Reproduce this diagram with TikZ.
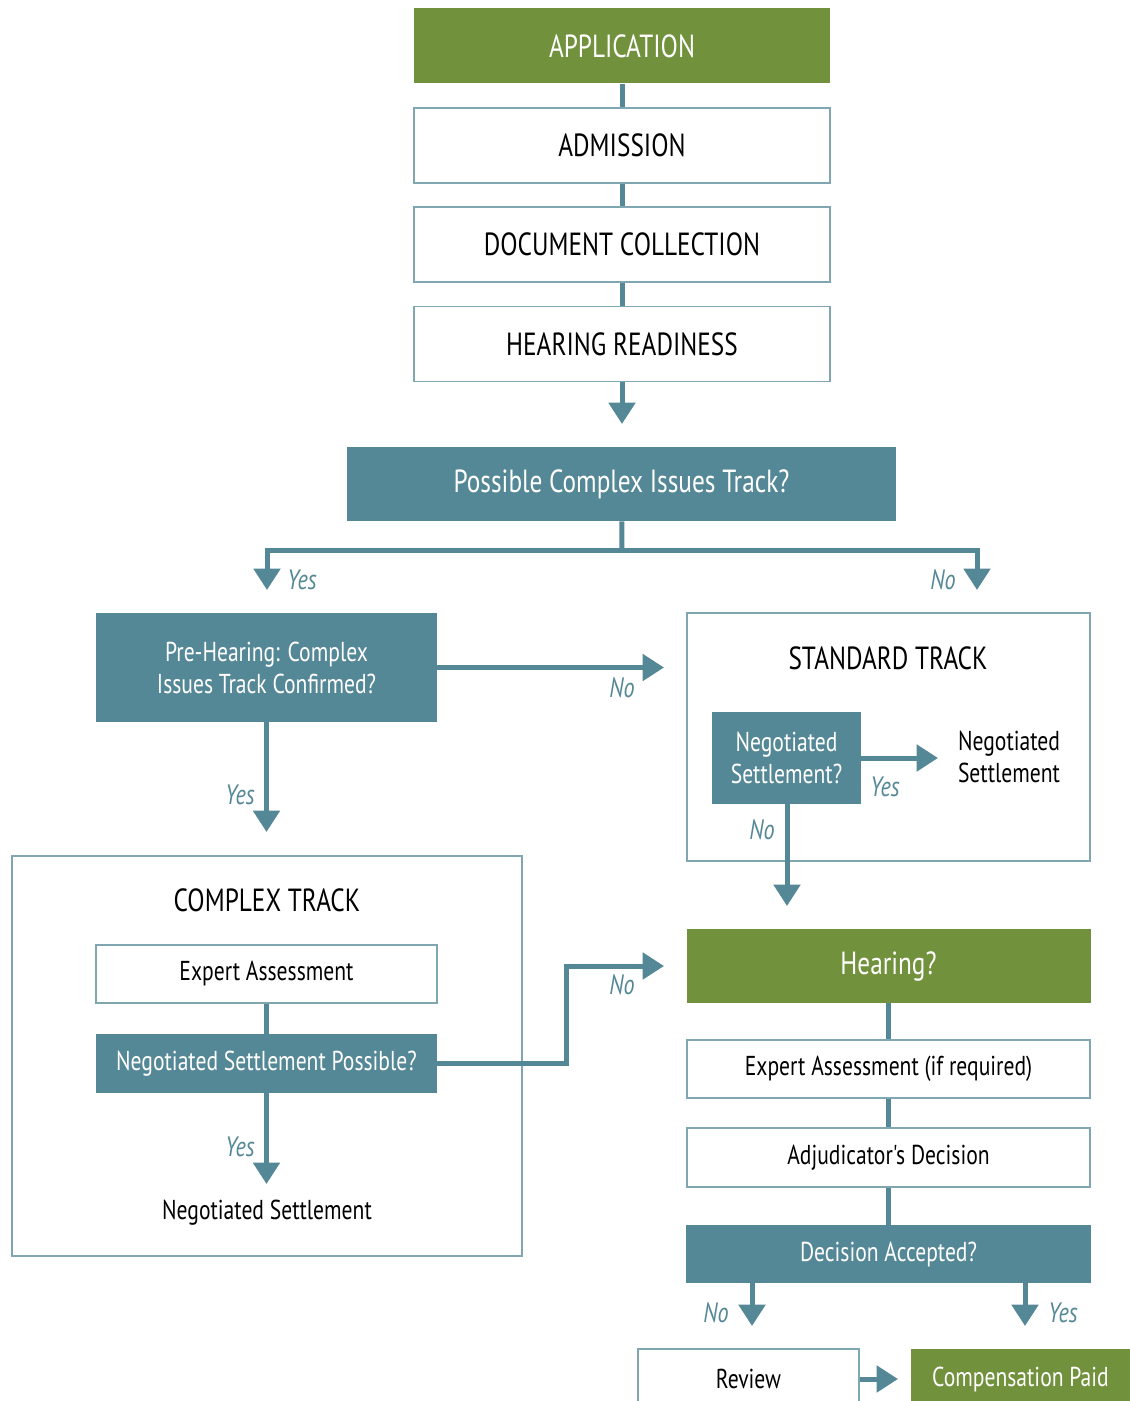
\documentclass[tikz,border=0pt]{standalone}
\usepackage{fontspec}
\setmainfont{PT Sans}[FakeStretch=0.79]
\newfontfamily\plainfont{PT Sans}[FakeStretch=0.79]
\usetikzlibrary{arrows.meta,positioning}
\definecolor{tealgrey}{HTML}{558896}
\definecolor{tealline}{HTML}{7FA6B1}
\definecolor{moss}{HTML}{71913C}
\tikzset{
  bigtext/.style={font=\fontsize{24}{28}\selectfont},
  smalltext/.style={font=\fontsize{20.5}{24}\selectfont, align=center},
  greenbox/.style={fill=moss, text=white, inner sep=0pt},
  tealbox/.style={fill=tealgrey, text=white, inner sep=0pt},
  whitebox/.style={draw=tealline, line width=1pt, fill=white, text=black, inner sep=0pt},
  trackframe/.style={draw=tealline, line width=1pt, inner sep=0pt},
  ans/.style={text=tealgrey, font=\fontsize{21}{24}\selectfont\itshape},
  link/.style={draw=tealgrey, line width=3.75pt},
  flow/.style={link, -{Triangle[width=19.5pt,length=16pt]}},
}
\begin{document}
\begin{tikzpicture}[x=0.75pt,y=-0.75pt]
        \clip (0,0) rectangle (1130,1401);
        \fill[white] (0,0) rectangle (1130,1401);

        % frames
        \node[trackframe, minimum width=302.25pt, minimum height=186pt] (std) at (888.5,737) {};
        \node[trackframe, minimum width=382.5pt, minimum height=300pt] (cplx) at (267,1056) {};

        % main stack
        \node[greenbox, bigtext, minimum width=312pt, minimum height=56.25pt] (app) at (622,46) {APPLICATION};
        \node[whitebox, bigtext, minimum width=312pt, minimum height=56.25pt] (adm) at (622,145.5) {ADMISSION};
        \node[whitebox, bigtext, minimum width=312pt, minimum height=56.25pt] (doc) at (622,244.5) {DOCUMENT COLLECTION};
        \node[whitebox, bigtext, minimum width=312pt, minimum height=56.25pt] (hr) at (622,344) {HEARING READINESS};
        \node[tealbox, bigtext, minimum width=411.75pt, minimum height=55.5pt] (pct) at (621.5,484) {Possible Complex Issues Track?};

        \node[tealbox, smalltext, minimum width=255.75pt, minimum height=81.75pt] (ph) at (266.5,667.5) {Pre-Hearing: Complex\\Issues Track Confirmed?};

        % standard track
        \node[bigtext] (stdT) at (888,658) {STANDARD TRACK};
        \node[tealbox, smalltext, minimum width=111.75pt, minimum height=69pt] (ns) at (786.5,758) {Negotiated\\Settlement?};
        \node[smalltext] (nsOut) at (1009,757) {Negotiated\\Settlement};

        % complex track
        \node[bigtext] (cplxT) at (267,900) {COMPLEX TRACK};
        \node[whitebox, smalltext, minimum width=255.75pt, minimum height=43.5pt] (ea) at (266.5,974) {Expert Assessment};
        \node[tealbox, smalltext, minimum width=255.75pt, minimum height=44.25pt] (nsp) at (266.5,1063.5) {Negotiated Settlement Possible?};
        \node[smalltext] (nspOut) at (267,1213) {Negotiated Settlement};

        % hearing
        \node[greenbox, bigtext, minimum width=303pt, minimum height=55.5pt] (hg) at (888.5,966) {Hearing?};
        \node[whitebox, smalltext, minimum width=302.25pt, minimum height=43.5pt] (ear) at (888.5,1069) {Expert Assessment (if required)};
        \node[whitebox, smalltext, minimum width=302.25pt, minimum height=44.25pt] (adj) at (888.5,1157.5) {\plainfont Adjudicator's Decision};
        \node[tealbox, smalltext, minimum width=303.75pt, minimum height=43.5pt] (da) at (888.5,1254) {Decision Accepted?};
        \node[whitebox, smalltext, minimum width=165.75pt, minimum height=45pt] (rev) at (748.5,1379) {Review};
        \node[greenbox, smalltext, minimum width=165pt, minimum height=45pt] (cp) at (1020.5,1379) {Compensation Paid};

        % free ends
        \coordinate (hrEnd) at (622,424);
        \coordinate (split) at (622,550);
        \coordinate (pctYes) at (267,590);
        \coordinate (pctNo) at (977,590);
        \coordinate (phNo) at (664,667.5);
        \coordinate (phYes) at (266.5,832);
        \coordinate (nsYes) at (938,758);
        \coordinate (nsNo) at (787,906);
        \coordinate (nspYes) at (266.5,1184);
        \coordinate (bend) at (566,1063.5);
        \coordinate (nspNo) at (664,966);
        \coordinate (daNo) at (752,1326);
        \coordinate (daYes) at (1025,1326);
        \coordinate (revEnd) at (898,1379);

        \draw[link] (app) -- (adm);
        \draw[link] (adm) -- (doc);
        \draw[link] (doc) -- (hr);
        \draw[flow] (hr) -- (hrEnd);
        \draw[link] (pct) -- (split);
        \draw[flow] (split) -| (pctYes);
        \draw[flow] (split) -| (pctNo);
        \draw[flow] (ph) -- (phNo);
        \draw[flow] (ph) -- (phYes);
        \draw[flow] (ns) -- (nsYes);
        \draw[flow] (ns.south -| nsNo) -- (nsNo);
        \draw[link] (ea) -- (nsp);
        \draw[flow] (nsp) -- (nspYes);
        \draw[flow] (nsp) -- (bend) |- (nspNo);
        \draw[link] (hg) -- (ear);
        \draw[link] (ear) -- (adj);
        \draw[link] (adj) -- (da);
        \draw[flow] (da.south -| daNo) -- (daNo);
        \draw[flow] (da.south -| daYes) -- (daYes);
        \draw[flow] (rev) -- (revEnd);

        % answers
        \node[ans] (a1) at (302,580) {Yes};
        \node[ans] (a2) at (943,580) {No};
        \node[ans] (a3) at (622,688) {No};
        \node[ans] (a4) at (240,795) {Yes};
        \node[ans] (a5) at (885,787) {Yes};
        \node[ans] (a6) at (762,830) {No};
        \node[ans] (a7) at (240,1147) {Yes};
        \node[ans] (a8) at (622,985) {No};
        \node[ans] (a9) at (716,1313) {No};
        \node[ans] (a10) at (1063,1313) {Yes};
    \end{tikzpicture}
\end{document}
